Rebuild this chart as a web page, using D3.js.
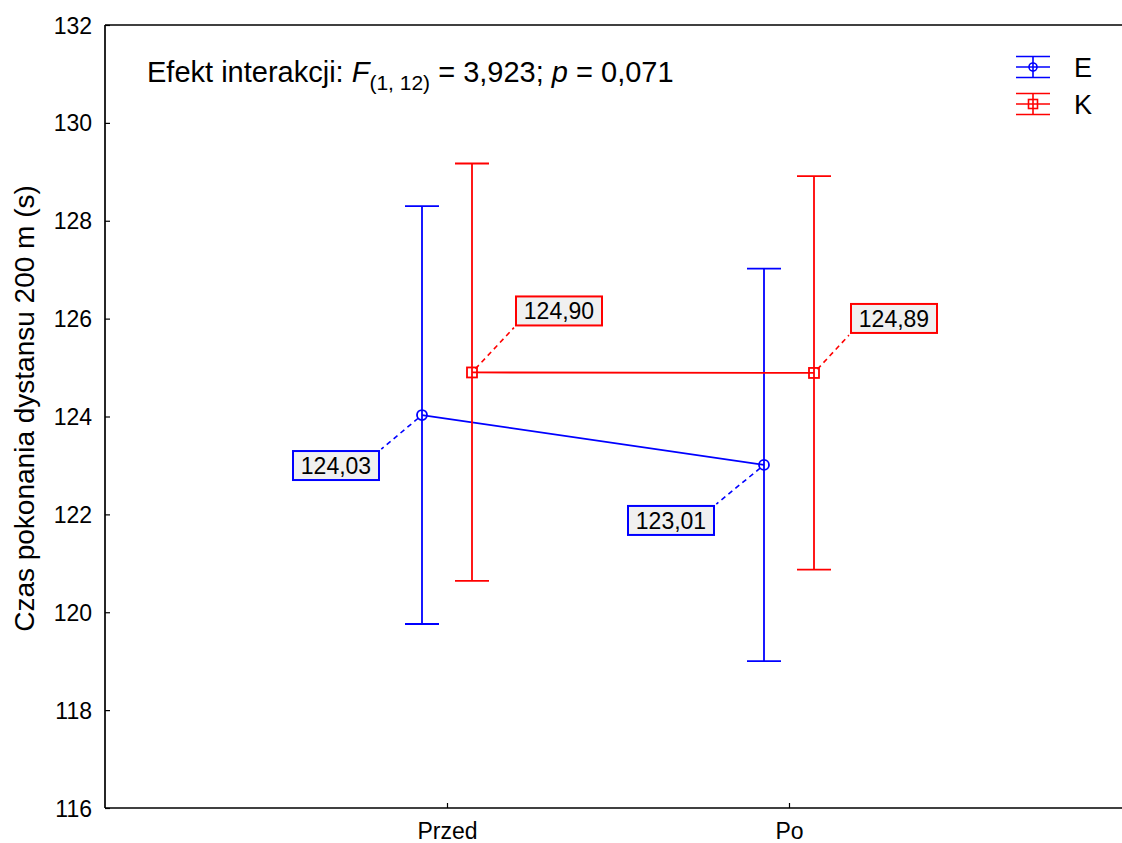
<!DOCTYPE html>
<html>
<head>
<meta charset="utf-8">
<script src="https://cdn.jsdelivr.net/npm/d3@7"></script>
<style>
  html, body { margin: 0; padding: 0; background: #fff; }
  svg { display: block; font-family: Arial, "Liberation Sans", sans-serif; }
</style>
</head>
<body>
<svg id="chart" width="1122" height="843"></svg>
<script>
// Measurement occasions on the x axis
const occasions = ["Przed", "Po"];
// Groups: E (experimental) and K (control)
const groups = ["E", "K"];
const groupColors = ["#0000ff", "#ff0000"];
// Group means for each occasion
const meansE = [124.03, 123.01];
const meansK = [124.90, 124.89];
// Error bar limits (lower, upper)
const lowerE = [119.76, 119.00];
const upperE = [128.30, 127.02];
const lowerK = [120.64, 120.87];
const upperK = [129.17, 128.91];
// Y axis ticks
const yTicks = [116, 118, 120, 122, 124, 126, 128, 130, 132];
const yTitle = "Czas pokonania dystansu 200 m (s)";

const svg = d3.select("#chart");
const plotLeft = 105, plotTop = 25, plotBottom = 808, plotRight = 1131;
const fontFamily = "Arial, 'Liberation Sans', sans-serif";

const x = d3.scalePoint().domain(occasions).range([plotLeft, plotRight]).padding(1);
const y = d3.scaleLinear().domain([116, 132]).range([plotBottom, plotTop]);

const series = [
  { name: groups[0], color: groupColors[0], means: meansE, lo: lowerE, hi: upperE, dx: -25, marker: "circle",
    // label box placement relative to the point: anchor corner offset
    labelPos: [{ dx: -43, dy: 36 }, { dx: -50, dy: 41 }], side: "left" },
  { name: groups[1], color: groupColors[1], means: meansK, lo: lowerK, hi: upperK, dx: 25, marker: "square",
    labelPos: [{ dx: 44, dy: -47 }, { dx: 37, dy: -40 }], side: "right" }
];

// Frame
const frame = svg.append("g").attr("stroke", "#000").attr("stroke-width", 1.7).attr("fill", "none");
frame.append("line").attr("x1", plotLeft).attr("x2", plotLeft).attr("y1", plotTop).attr("y2", plotBottom);
frame.append("line").attr("x1", plotLeft).attr("x2", plotRight).attr("y1", plotBottom).attr("y2", plotBottom);
frame.append("line").attr("x1", plotLeft).attr("x2", plotRight).attr("y1", plotTop).attr("y2", plotTop);
frame.append("line").attr("x1", plotRight).attr("x2", plotRight).attr("y1", plotTop).attr("y2", plotBottom);

// Y axis (ticks pointing inward)
const yAxis = d3.axisRight(y).tickValues(yTicks).tickSize(5).tickFormat(d3.format("d"));
const gy = svg.append("g").attr("transform", `translate(${plotLeft},0)`).call(yAxis);
gy.select(".domain").remove();
gy.selectAll(".tick line").attr("stroke", "#000").attr("stroke-width", 1.2);
gy.selectAll(".tick text")
  .attr("x", -13).attr("text-anchor", "end").attr("dy", "0.35em")
  .attr("font-size", 23).attr("fill", "#000").attr("font-family", fontFamily);

// X axis (ticks pointing inward)
const xAxis = d3.axisTop(x).tickSize(5);
const gx = svg.append("g").attr("transform", `translate(0,${plotBottom})`).call(xAxis);
gx.select(".domain").remove();
gx.selectAll(".tick line").attr("stroke", "#000").attr("stroke-width", 1.2);
gx.selectAll(".tick text")
  .attr("y", 31).attr("dy", 0).attr("text-anchor", "middle")
  .attr("font-size", 23).attr("fill", "#000").attr("font-family", fontFamily);

// Y axis title
svg.append("text")
  .attr("transform", `translate(34,${(y(116) + y(132)) / 2 - 8}) rotate(-90)`)
  .attr("text-anchor", "middle")
  .attr("font-size", 28)
  .attr("fill", "#000")
  .text(yTitle);

// Interaction effect annotation
const note = svg.append("text").attr("x", 147).attr("y", 82).attr("font-size", 29).attr("fill", "#000");
note.append("tspan").text("Efekt interakcji: ");
note.append("tspan").attr("font-style", "italic").text("F");
note.append("tspan").attr("font-size", 21).attr("dy", 8).text("(1, 12)");
note.append("tspan").attr("dy", -8).text(" = 3,923; ");
note.append("tspan").attr("font-style", "italic").text("p");
note.append("tspan").text(" = 0,071");

const capHalf = 17;

series.forEach(s => {
  const g = svg.append("g").attr("stroke", s.color).attr("fill", "none").attr("stroke-width", 1.8);
  const px = occasions.map(o => x(o) + s.dx);

  // Connecting line between means
  g.append("path")
    .attr("d", d3.line().x((d, i) => px[i]).y(d => y(d))(s.means));

  // Error bars
  occasions.forEach((o, i) => {
    g.append("line").attr("x1", px[i]).attr("x2", px[i]).attr("y1", y(s.lo[i])).attr("y2", y(s.hi[i]));
    g.append("line").attr("x1", px[i] - capHalf).attr("x2", px[i] + capHalf).attr("y1", y(s.hi[i])).attr("y2", y(s.hi[i]));
    g.append("line").attr("x1", px[i] - capHalf).attr("x2", px[i] + capHalf).attr("y1", y(s.lo[i])).attr("y2", y(s.lo[i]));
  });

  // Markers
  occasions.forEach((o, i) => {
    const cy = y(s.means[i]);
    if (s.marker === "circle") {
      g.append("circle").attr("cx", px[i]).attr("cy", cy).attr("r", 5);
    } else {
      g.append("rect").attr("x", px[i] - 5).attr("y", cy - 5).attr("width", 10).attr("height", 10);
    }
  });

  // Value labels with dashed leaders
  occasions.forEach((o, i) => {
    const cx = px[i], cy = y(s.means[i]);
    const lp = s.labelPos[i];
    const bw = 86, bh = 29;
    const fmt = d3.format(".2f")(s.means[i]).replace(".", ",");
    let bx, by;
    const ex = cx + lp.dx, ey = cy + lp.dy;
    if (s.side === "left") {
      // anchor is the box's top-right corner
      bx = ex - bw; by = ey;
    } else {
      // anchor is the box's bottom-left corner
      bx = ex; by = ey - bh;
    }
    const ang = Math.atan2(ey - cy, ex - cx);
    g.append("line")
      .attr("x1", cx + 5 * Math.cos(ang)).attr("y1", cy + 5 * Math.sin(ang))
      .attr("x2", ex - 3 * Math.cos(ang)).attr("y2", ey - 3 * Math.sin(ang))
      .attr("stroke-dasharray", "5,4").attr("stroke-width", 1.6);
    svg.append("rect")
      .attr("x", bx).attr("y", by).attr("width", bw).attr("height", bh)
      .attr("fill", "#f0f0f0").attr("stroke", s.color).attr("stroke-width", 2);
    svg.append("text")
      .attr("x", bx + bw / 2).attr("y", by + bh / 2).attr("dy", "0.36em")
      .attr("text-anchor", "middle").attr("font-size", 23).attr("fill", "#000")
      .text(fmt);
  });
});

// Legend
const legend = svg.append("g");
series.forEach((s, i) => {
  const cy = 67 + i * 37;
  const cx = 1033;
  const lg = legend.append("g").attr("stroke", s.color).attr("fill", "none").attr("stroke-width", 1.6);
  lg.append("line").attr("x1", cx - 17).attr("x2", cx + 17).attr("y1", cy - 10.5).attr("y2", cy - 10.5);
  lg.append("line").attr("x1", cx - 17).attr("x2", cx + 17).attr("y1", cy).attr("y2", cy);
  lg.append("line").attr("x1", cx - 17).attr("x2", cx + 17).attr("y1", cy + 10.5).attr("y2", cy + 10.5);
  lg.append("line").attr("x1", cx).attr("x2", cx).attr("y1", cy - 10.5).attr("y2", cy + 10.5);
  if (s.marker === "circle") lg.append("circle").attr("cx", cx).attr("cy", cy).attr("r", 4);
  else lg.append("rect").attr("x", cx - 4.5).attr("y", cy - 4.5).attr("width", 9).attr("height", 9);
  legend.append("text").attr("x", 1074).attr("y", cy).attr("dy", "0.36em")
    .attr("font-size", 27).attr("fill", "#000").text(s.name);
});
</script>
</body>
</html>
